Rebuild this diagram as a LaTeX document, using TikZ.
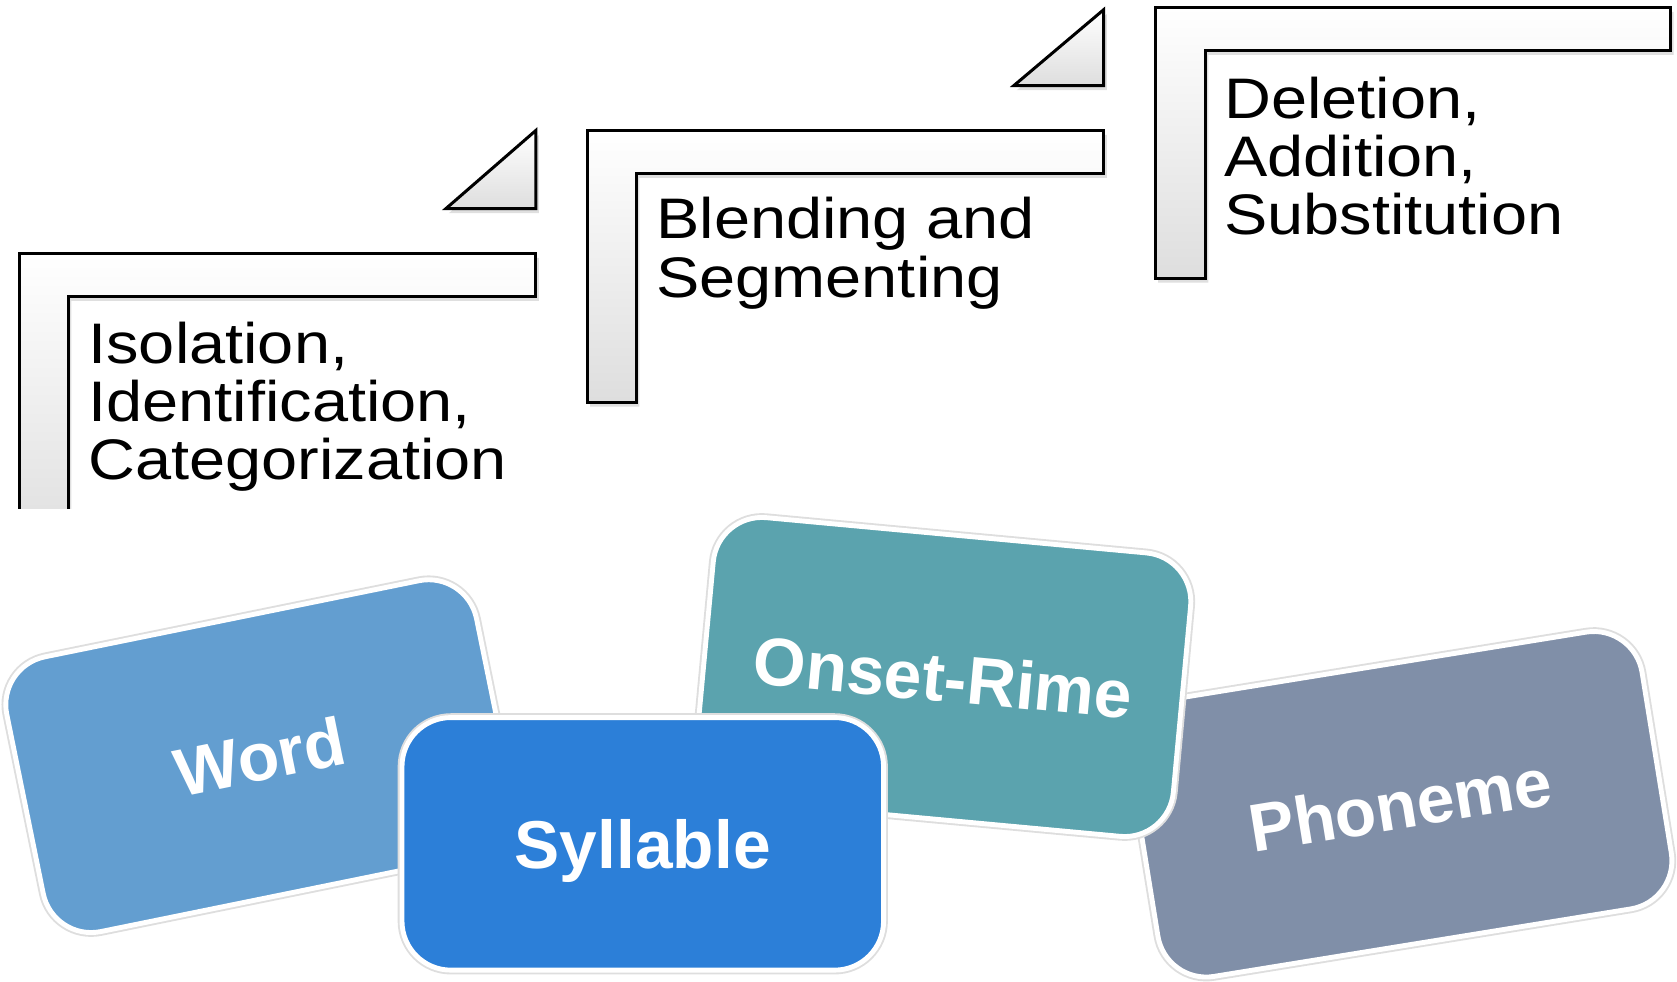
\documentclass[tikz,border=0pt]{standalone}
\usepackage{fontspec}
\setmainfont{Liberation Sans}
\newfontfamily\stepfont[FakeStretch=1.135]{Liberation Sans}
\usetikzlibrary{shadows}
\definecolor{wordblue}{RGB}{99,158,208}
\definecolor{syllblue}{RGB}{44,127,216}
\definecolor{onsetteal}{RGB}{91,163,174}
\definecolor{phonslate}{RGB}{128,143,168}

\begin{document}
\begin{tikzpicture}[x=0.01cm,y=-0.01cm]
  \tikzset{
    stepbar/.style={draw=black,line width=.8pt,top color=white,bottom color=black!13,
      drop shadow={opacity=.25,shadow xshift=.8pt,shadow yshift=-1.2pt}},
    steptext/.style={anchor=north west,inner sep=0pt,align=left,
      font={\stepfont\fontsize{15.2pt}{15.5pt}\selectfont}},
    card/.style={rounded corners=13pt,minimum width=4.48cm,minimum height=2.62cm,
      draw=white,line width=1.3pt,preaction={draw=black!13,line width=2.3pt},
      text=white,text depth=0pt,font={\bfseries\fontsize{18pt}{20pt}\selectfont}}
  }
  \useasboundingbox (0,0) rectangle (1568,918);
  % first step, cut off by the cards
  \begin{scope}
    \clip (0,0) rectangle (1568,475);
    \draw[stepbar] (18,237) -- (501,237) -- (501,277) -- (64,277) -- (64,520) -- (18,520) -- cycle;
  \end{scope}
  \draw[stepbar] (417,195) -- (501,122) -- (501,195) -- cycle;
  % second step
  \draw[stepbar] (549,122) -- (1032,122) -- (1032,162) -- (595,162) -- (595,376) -- (549,376) -- cycle;
  \draw[stepbar] (948,80) -- (1032,9) -- (1032,80) -- cycle;
  % third step
  \draw[stepbar] (1080,7) -- (1562,7) -- (1562,47) -- (1127,47) -- (1127,260) -- (1080,260) -- cycle;

  \node[steptext] (isolation) at (82,300) {Isolation,\\Identification,\\Categorization};
  \node[steptext] (blending) at (613,184) {Blending and\\Segmenting};
  \node[steptext] (deletion) at (1144,71) {Deletion,\\Addition,\\Substitution};

  % cards, back to front
  \node[card,fill=phonslate,rotate=9.2,minimum width=4.86cm] (phoneme) at (1309,752) {Phoneme};
  \node[card,fill=wordblue,rotate=11.5] (word) at (243,707) {Word};
  \node[card,fill=onsetteal,rotate=-5.3,minimum height=2.66cm] (onset) at (882,633) {Onset-Rime};
  \node[card,fill=syllblue,minimum width=4.50cm,minimum height=2.36cm] (syllable) at (601,789) {Syllable};
\end{tikzpicture}
\end{document}
